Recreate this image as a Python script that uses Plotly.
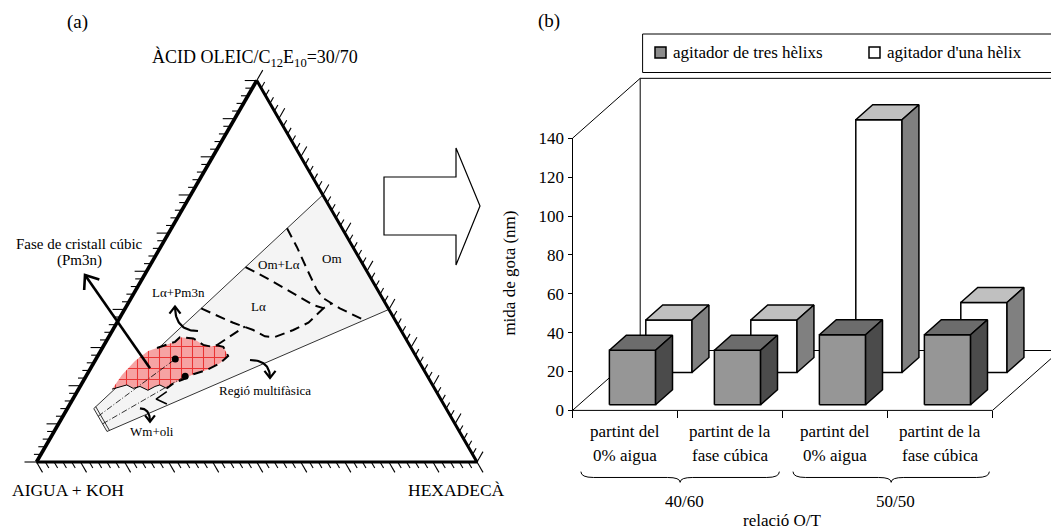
import math
import plotly.graph_objects as go

W, H = 1051, 531
FONT = "Liberation Serif, Times New Roman, serif"
S3 = math.sqrt(3) / 2

# ---------------- (b) droplet size ----------------
cat_line1 = ["partint del", "partint de la", "partint del", "partint de la"]
cat_line2 = ["0% aigua", "fase cúbica", "0% aigua", "fase cúbica"]
ratio_groups = ["40/60", "50/50"]
series_names = ["agitador de tres hèlixs", "agitador d'una hèlix"]
tres_helixs = [28, 28, 36, 36]
una_helix = [27, 27, 130, 36]
value_ticks = [0, 20, 40, 60, 80, 100, 120, 140]

# ---------------- (a) phase diagram, compositions in % ----------------
# (aigua + KOH, hexadecà, àcid oleic/C12E10)
wedge_aigua = [80, 0, 0, 80]
wedge_hexadeca = [6, 30, 60, 12]
wedge_tensio = [14, 70, 40, 8]

cubic_aigua = [73.3, 69.2, 64.4, 60.1, 57.7, 55.3, 52.8, 51.1, 48.2, 46.8, 45.1, 43.8, 42.5, 42.6,
               45.4, 49.3, 52.9, 55.8, 58.6, 60.8, 61.9, 63.2, 65.3, 66.6, 68.4, 69.4, 71.2]
cubic_hexadeca = [7.6, 8.0, 9.1, 10.8, 12.4, 14.1, 15.7, 16.2, 19.4, 22.5, 24.7, 25.6, 27.3, 29.6,
                  28.7, 26.6, 24.1, 22.5, 20.8, 19.9, 17.9, 17.0, 15.9, 13.6, 12.3, 10.4, 9.1]
cubic_tensio = [19.1, 22.8, 26.5, 29.1, 29.9, 30.6, 31.5, 32.7, 32.4, 30.7, 30.2, 30.6, 30.2, 27.8,
                25.9, 24.1, 23.0, 21.7, 20.6, 19.3, 20.2, 19.8, 18.8, 19.8, 19.3, 20.2, 19.7]

# Om / Om+La boundary
om_aigua = [12.5, 12.7, 13.3, 13.8, 13.4, 11.0, 7.0]
om_hexadeca = [26.25, 30.85, 35.96, 41.07, 43.66, 48.76, 55.8]
om_tensio = [61.25, 56.44, 50.77, 45.09, 42.91, 40.29, 37.2]
# La / Om+La boundary
la_aigua = [27.0, 23.1, 19.6, 16.6, 14.7, 12.2]
la_hexadeca = [21.9, 29.15, 36.19, 42.27, 44.97, 46.2]
la_tensio = [51.1, 47.71, 44.22, 41.15, 40.29, 41.6]
# La+Pm3n / La boundary
lap_aigua = [42.5, 37.1, 33.5, 31.7, 29.5, 24.4, 20.0, 14.7]
lap_hexadeca = [17.25, 26.42, 31.92, 35.39, 37.75, 41.0, 43.45, 44.97]
lap_tensio = [40.25, 36.51, 34.6, 32.95, 32.77, 34.6, 36.51, 40.29]
# link from the cubic region to the La+Pm3n boundary
link_aigua = [43.8, 34.9]
link_hexadeca = [25.6, 29.57]
link_tensio = [30.6, 35.52]
# multiphase edge near Wm+oli
edge_aigua = [61.2, 64.6, 62.8]
edge_hexadeca = [20.35, 18.9, 22.0]
edge_tensio = [18.45, 16.5, 15.2]

# dilution paths (O/T 40/60 and 50/50) and studied samples
path_aigua = [80, 55]
path_4060_hexadeca = [8, 18]
path_4060_tensio = [12, 27]
path_5050_hexadeca = [10, 22.5]
path_5050_tensio = [10, 22.5]
sample_aigua = [55, 55]
sample_hexadeca = [18, 22.5]
sample_tensio = [27, 22.5]


def xy(w, o, s):
    t = w + o + s
    return (o + s / 2) / t, (s / t) * S3


def xy_list(ws, os_, ss):
    pts = [xy(w, o, s) for w, o, s in zip(ws, os_, ss)]
    return [p[0] for p in pts], [p[1] for p in pts]


def P(px, py):
    return px / W, 1 - py / H


traces = []


def add_line(xs, ys, width, dash="solid", color="black", ax=("x2", "y2")):
    traces.append(go.Scatter(x=xs, y=ys, mode="lines",
                             line=dict(color=color, width=width, dash=dash),
                             xaxis=ax[0], yaxis=ax[1], hoverinfo="skip", showlegend=False))


# ---------- (a) ternary diagram ----------
wx, wy = xy_list(wedge_aigua, wedge_hexadeca, wedge_tensio)
traces.append(go.Scatter(x=wx + [wx[0]], y=wy + [wy[0]], mode="lines", fill="toself",
                         fillcolor="#f4f4f4", line=dict(color="black", width=0.8),
                         xaxis="x2", yaxis="y2", hoverinfo="skip", showlegend=False))
# second cap line of the studied zone
cx0, cy0 = xy(79.3, 6.2, 14.5)
cx1, cy1 = xy(79.3, 12.4, 8.3)
add_line([cx0, cx1], [cy0, cy1], 0.8)

kx, ky = xy_list(cubic_aigua, cubic_hexadeca, cubic_tensio)
traces.append(go.Scatter(x=kx + [kx[0]], y=ky + [ky[0]], mode="lines", fill="toself",
                         fillcolor="#f6a3a3",
                         fillpattern=dict(shape="+", size=11, solidity=0.18,
                                          fgcolor="#ea3434", bgcolor="#f6a3a3", fillmode="replace"),
                         line=dict(width=0, color="rgba(0,0,0,0)"),
                         xaxis="x2", yaxis="y2", hoverinfo="skip", showlegend=False))

DASH = "10px,6px"
add_line(kx[4:20], ky[4:20], 2, DASH)
add_line(kx[19:] + [kx[0]], ky[19:] + [ky[0]], 1.0)

for hx, tx in ((path_4060_hexadeca, path_4060_tensio), (path_5050_hexadeca, path_5050_tensio)):
    px_, py_ = xy_list(path_aigua, hx, tx)
    add_line(px_, py_, 0.8, "6px,2px,1px,2px")

sx, sy = xy_list(sample_aigua, sample_hexadeca, sample_tensio)
traces.append(go.Scatter(x=sx, y=sy, mode="markers", marker=dict(color="black", size=7),
                         xaxis="x2", yaxis="y2", hoverinfo="skip", showlegend=False))

for a_, o_, s_ in ((om_aigua, om_hexadeca, om_tensio), (la_aigua, la_hexadeca, la_tensio),
                   (lap_aigua, lap_hexadeca, lap_tensio), (link_aigua, link_hexadeca, link_tensio)):
    bx, by = xy_list(a_, o_, s_)
    add_line(bx, by, 2, DASH)

ex, ey = xy_list(edge_aigua, edge_hexadeca, edge_tensio)
add_line(ex, ey, 1.6)

# triangle frame
add_line([0, 1, 0.5], [0, 0, S3], 3)
add_line([0, 0.5], [0, S3], 3.6)

# tick marks along each edge
def edge_ticks(start, end, direction, step):
    xs, ys = [], []
    n = int(round(100 / step))
    for k in range(n + 1):
        t = k / n
        px_ = start[0] + t * (end[0] - start[0])
        py_ = start[1] + t * (end[1] - start[1])
        major = abs((k * step) % 10) < 1e-6 or abs((k * step) % 10 - 10) < 1e-6
        L = (12 if major else 7) / 440.5
        xs += [px_, px_ + direction[0] * L, None]
        ys += [py_, py_ + direction[1] * L, None]
    return xs, ys

A = (0.5, S3)
B = (0.0, 0.0)
C = (1.0, 0.0)
for st, en, dr in ((B, A, (-1.0, 0.0)), (B, C, (0.5, -S3)), (C, A, (0.5, S3))):
    tx, ty = edge_ticks(st, en, dr, 2)
    add_line(tx, ty, 1.1)


def bezier(p0, p1, p2, n=30):
    xs, ys = [], []
    for i in range(n + 1):
        t = i / n
        xs.append((1 - t) ** 2 * p0[0] + 2 * (1 - t) * t * p1[0] + t ** 2 * p2[0])
        ys.append((1 - t) ** 2 * p0[1] + 2 * (1 - t) * t * p1[1] + t ** 2 * p2[1])
    return xs, ys


def head(tip, frm, length, ang=38):
    dx, dy = frm[0] - tip[0], frm[1] - tip[1]
    d = math.hypot(dx, dy)
    dx, dy = dx / d, dy / d
    xs, ys = [], []
    for sgn in (-1, 1):
        r = math.radians(ang * sgn)
        ux = dx * math.cos(r) - dy * math.sin(r)
        uy = dx * math.sin(r) + dy * math.cos(r)
        xs.append(tip[0] + ux * length / 440.5)
        ys.append(tip[1] + uy * length / 440.5)
    return [xs[0], tip[0], xs[1]], [ys[0], tip[1], ys[1]]


def px2d(px, py):
    return (px - 36.5) / 440.5, (462 - py) / 440.5

# label arrows (start, control, tip) in diagram units
arrows = [
    (px2d(150, 368.3), None, px2d(85, 275), 2.6, 15),
    (px2d(198, 331), px2d(175, 331), px2d(175, 306.5), 2.2, 9),
    (px2d(250, 360), px2d(270, 360), px2d(270, 378), 2.2, 9),
    (px2d(140, 408.3), px2d(150, 408.5), px2d(150, 421.7), 2.2, 8),
]
for p0, p1, p2, wdt, hl in arrows:
    if p1 is None:
        add_line([p0[0], p2[0]], [p0[1], p2[1]], wdt)
        hx, hy = head(p2, p0, hl)
    else:
        bx, by = bezier(p0, p1, p2)
        add_line(bx, by, wdt)
        hx, hy = head(p2, p1, hl)
    add_line(hx, hy, wdt)

# ---------- (b) 3D columns ----------
DX = 67.7 / 105.0
DY = 59.9 / 1.944
RAX = ("x", "y")
floor_x = [0, 4, 4 + DX, DX, 0]
floor_y = [0, 0, DY, DY, 0]
add_line(floor_x, floor_y, 1, ax=RAX)
add_line([0, 0, DX, DX, 4 + DX + 0.5], [0, 140, 140 + DY, DY, DY], 1, ax=RAX)
add_line([DX, 4 + DX + 0.5], [140 + DY, 140 + DY], 1, ax=RAX)

bar_left, bar_right = 0.29, 0.73
bar_depth = 0.25
row_start = [0.095, 0.633]
rows = [
    (una_helix, row_start[1], ("#ffffff", "#c0c0c0", "#808080")),
    (tres_helixs, row_start[0], ("#969696", "#6c6c6c", "#4b4b4b")),
]
for values, t0, (c_front, c_top, c_side) in rows:
    for i, v in enumerate(values):
        xl = i + bar_left + t0 * DX
        xr = i + bar_right + t0 * DX
        yb = t0 * DY
        yt = yb + v
        ddx, ddy = bar_depth * DX, bar_depth * DY
        faces = [
            ([xl, xr, xr, xl, xl], [yb, yb, yt, yt, yb], c_front),
            ([xl, xr, xr + ddx, xl + ddx, xl], [yt, yt, yt + ddy, yt + ddy, yt], c_top),
            ([xr, xr + ddx, xr + ddx, xr, xr], [yb, yb + ddy, yt + ddy, yt, yb], c_side),
        ]
        for fx, fy, col in faces:
            traces.append(go.Scatter(x=fx, y=fy, mode="lines", fill="toself", fillcolor=col,
                                     line=dict(color="black", width=1.5), xaxis="x", yaxis="y",
                                     hoverinfo="skip", showlegend=False))

fig = go.Figure(traces)

shapes = []
# braces under the ratio groups
def brace(x0, x1, ytop, ymid, ytip, r=0.12):
    xm = (x0 + x1) / 2
    return (f"M {x0},{ytop} Q {x0},{ymid} {x0 + r},{ymid} L {xm - r},{ymid} "
            f"Q {xm},{ymid} {xm},{ytip} Q {xm},{ymid} {xm + r},{ymid} "
            f"L {x1 - r},{ymid} Q {x1},{ymid} {x1},{ytop}")

for x0, x1 in ((0.08, 1.97), (2.10, 3.97)):
    shapes.append(dict(type="path", xref="x", yref="y", path=brace(x0, x1, -31.5, -34.5, -37.0),
                       line=dict(color="black", width=1)))

# hollow block arrow between the panels
blk = [(384, 177), (456, 177), (456, 148), (480, 206), (456, 265), (456, 235), (384, 235)]
path = "M " + " L ".join(f"{P(a, b)[0]},{P(a, b)[1]}" for a, b in blk) + " Z"
shapes.append(dict(type="path", xref="paper", yref="paper", path=path,
                   line=dict(color="black", width=1.2), fillcolor="white"))

# legend frame and swatches
lx0, ly0 = P(642.6, 34)
lx1, ly1 = P(1060, 72.5)
shapes.append(dict(type="rect", xref="paper", yref="paper", x0=lx0, y0=ly1, x1=lx1, y1=ly0,
                   line=dict(color="black", width=1), fillcolor="white"))
for sx0, col in ((655, "#8c8c8c"), (869, "#ffffff")):
    a0, b0 = P(sx0, 47)
    a1, b1 = P(sx0 + 11, 58)
    shapes.append(dict(type="rect", xref="paper", yref="paper", x0=a0, y0=b1, x1=a1, y1=b0,
                       line=dict(color="black", width=1.5), fillcolor=col))

ann = []


def text(px, py, s, size, xanchor="center", angle=0):
    x, y = P(px, py)
    ann.append(dict(x=x, y=y, xref="paper", yref="paper", text=s, showarrow=False,
                    xanchor=xanchor, yanchor="middle", textangle=angle,
                    font=dict(family=FONT, size=size, color="black")))


text(77, 22, "(a)", 19)
text(255, 58, "ÀCID OLEIC/C<sub>12</sub>E<sub>10</sub>=30/70", 18)
text(68, 490, "AIGUA + KOH", 17.5)
text(456, 490, "HEXADECÀ", 17.5)
text(79, 244, "Fase de cristall cúbic", 15)
text(79, 260, "(Pm3n)", 15)
text(178, 292, "Lα+Pm3n", 13)
text(258, 306.5, "Lα", 13)
text(279, 264, "Om+Lα", 13)
text(332, 258, "Om", 13)
text(265, 390.5, "Regió multifàsica", 13)
text(152, 431, "Wm+oli", 13)

text(549, 21, "(b)", 19)
text(671, 52.5, series_names[0], 17, "left")
text(885, 52.5, series_names[1], 17, "left")
text(510, 273.6, "mida de gota (nm)", 17, angle=-90)
for i in range(4):
    ann.append(dict(x=i + 0.5, y=(410.4 - 431.8) / 1.944, xref="x", yref="y", text=cat_line1[i],
                    showarrow=False, font=dict(family=FONT, size=17, color="black")))
    ann.append(dict(x=i + 0.5, y=(410.4 - 455.5) / 1.944, xref="x", yref="y", text=cat_line2[i],
                    showarrow=False, font=dict(family=FONT, size=17, color="black")))
text(684, 501, ratio_groups[0], 17)
text(895, 501, ratio_groups[1], 17)
text(782, 520, "relació O/T", 17)

KY = 1.944
fig.update_layout(
    width=W, height=H, margin=dict(l=0, r=0, t=0, b=0),
    paper_bgcolor="white", plot_bgcolor="rgba(0,0,0,0)", showlegend=False,
    shapes=shapes, annotations=ann,
    xaxis=dict(domain=[520 / W, 1], range=[(520 - 572.5) / 105, (1051 - 572.5) / 105],
               anchor="free", position=(H - 410.4) / H, side="bottom",
               tickmode="array", tickvals=[0, 1, 2, 3, 4], ticks="outside", ticklen=7,
               tickwidth=1, tickcolor="black", showticklabels=False,
               showgrid=False, zeroline=False, showline=False, fixedrange=True),
    yaxis=dict(domain=[0, 1], range=[(410.4 - H) / KY, 410.4 / KY],
               anchor="free", position=572.5 / W, side="left",
               tickmode="array", tickvals=value_ticks, ticks="outside", ticklen=5,
               tickwidth=1, tickcolor="black",
               tickfont=dict(family=FONT, size=17, color="black"),
               showgrid=False, zeroline=False, showline=False, fixedrange=True),
    xaxis2=dict(domain=[0, 520 / W], range=[-36.5 / 440.5, (520 - 36.5) / 440.5],
                anchor="y2", visible=False, fixedrange=True),
    yaxis2=dict(domain=[0, 1], range=[(462 - H) / 440.5, 462 / 440.5],
                anchor="x2", visible=False, fixedrange=True),
)

fig.write_html("out.html")
